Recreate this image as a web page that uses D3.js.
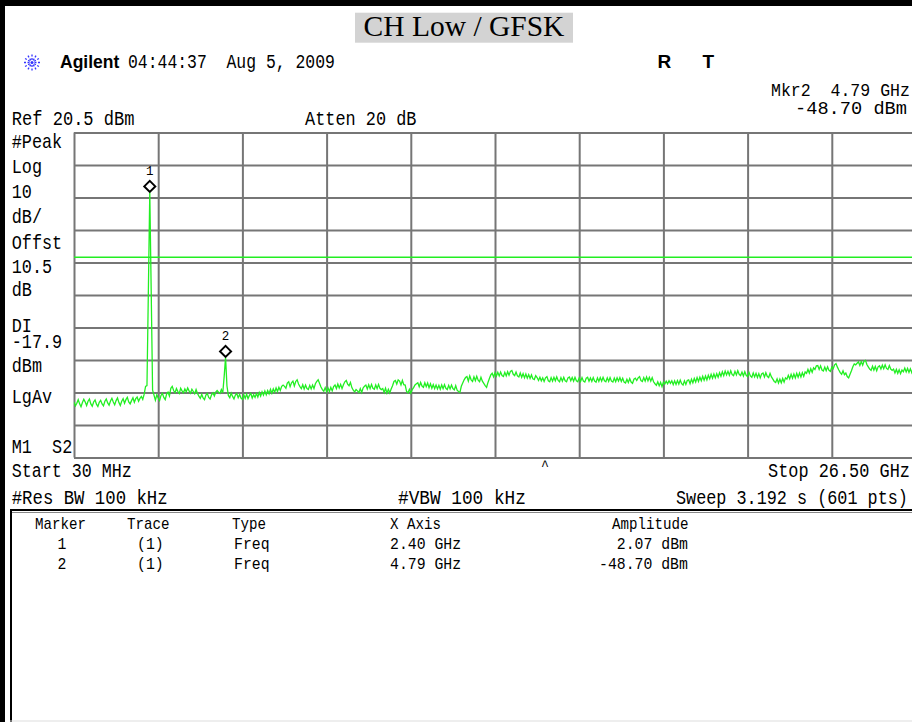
<!DOCTYPE html>
<html><head><meta charset="utf-8">
<script src="https://cdn.jsdelivr.net/npm/d3@7"></script>
<style>html,body{margin:0;padding:0;background:#fff;} svg{display:block;} text{white-space:pre;}</style>
</head><body>
<svg id="c" width="912" height="722"></svg>
<script>
// ---------------- data ----------------
const title = "CH Low / GFSK";
const startGHz = 0.03, stopGHz = 26.5;
const refLevel = 20.5, dbPerDiv = 10, divisions = 10;
const displayLine = -17.9;
const markerNames = ["1", "2"];
const markerIdx = [54, 108];
const markerAmps = [2.07, -48.70];
const headerTexts = ["04:44:37  Aug 5, 2009"];
const infoTexts = ["Ref 20.5 dBm", "Atten 20 dB", "Mkr2  4.79 GHz", "-48.70 dBm"];
const leftLabels = ["#Peak","Log","10","dB/","Offst","10.5","dB","DI","-17.9","dBm","LgAv","M1  S2"];
const footerTexts = ["Start 30 MHz", "Stop 26.50 GHz", "#Res BW 100 kHz", "#VBW 100 kHz", "Sweep 3.192 s (601 pts)"];
const tableHeader = ["Marker","Trace","Type","X Axis","Amplitude"];
const tableRows = [["1","(1)","Freq","2.40 GHz","2.07 dBm"],["2","(1)","Freq","4.79 GHz","-48.70 dBm"]];
const traceDbm = [
-62.4,-63.6,-62.8,-61.7,-63.0,-63.9,-62.6,-61.6,-62.4,-63.5,
-62.2,-61.5,-63.0,-63.7,-62.4,-61.8,-63.1,-63.8,-62.5,-61.9,
-63.0,-63.6,-62.2,-61.5,-62.7,-63.4,-62.1,-61.3,-62.4,-63.3,
-62.0,-61.2,-62.6,-63.5,-62.2,-61.4,-62.8,-61.7,-61.0,-62.4,
-63.0,-62.0,-61.1,-62.5,-61.4,-60.9,-62.2,-61.3,-60.7,-61.6,
-60.0,-57.6,-57.4,-28.0,2.07,-28.0,-58.8,-60.3,-61.9,-60.2,
-61.2,-62.0,-60.4,-59.8,-61.0,-61.7,-60.0,-59.4,-60.6,-58.2,
-57.6,-58.9,-59.6,-58.3,-59.2,-59.8,-58.2,-59.0,-59.6,-58.4,
-59.3,-58.1,-59.0,-59.7,-58.5,-59.2,-59.9,-58.6,-59.8,-60.6,
-61.3,-60.1,-61.2,-61.7,-60.3,-59.8,-61.0,-61.5,-60.2,-59.6,
-60.6,-59.4,-58.9,-59.4,-59.8,-58.6,-59.6,-54.6,-48.70,-57.5,
-60.4,-61.1,-59.7,-60.7,-61.5,-60.3,-59.8,-61.1,-60.1,-61.2,
-61.6,-60.2,-61.3,-60.0,-61.4,-60.4,-59.8,-61.2,-60.2,-61.0,
-59.8,-60.9,-59.5,-60.6,-59.3,-60.3,-59.0,-60.2,-58.9,-59.9,
-58.5,-59.7,-58.4,-59.4,-58.1,-59.2,-57.9,-58.9,-57.6,-57.2,
-57.6,-58.2,-56.6,-56.2,-57.7,-56.5,-56.0,-57.5,-56.1,-55.6,
-56.9,-57.7,-58.3,-57.1,-58.4,-57.2,-58.3,-58.6,-57.3,-58.4,
-57.2,-58.3,-56.8,-56.1,-55.6,-56.7,-57.8,-58.6,-59.1,-58.0,
-59.3,-58.1,-59.2,-57.9,-59.0,-57.7,-57.2,-58.3,-56.9,-58.1,
-57.0,-58.3,-57.1,-56.2,-55.8,-56.9,-57.4,-56.4,-58.0,-58.8,
-59.3,-58.6,-59.0,-59.5,-58.3,-59.5,-58.1,-57.6,-57.2,-58.4,
-57.1,-58.3,-57.0,-58.2,-58.5,-57.2,-58.3,-57.0,-58.2,-58.6,
-58.3,-59.5,-58.2,-59.7,-58.5,-59.6,-58.4,-57.4,-56.1,-55.8,
-56.9,-55.6,-56.0,-57.2,-55.8,-57.1,-57.2,-59.2,-59.6,-58.5,
-59.7,-58.6,-58.0,-57.2,-56.8,-56.5,-57.7,-56.4,-57.5,-57.9,
-56.5,-57.7,-56.6,-58.0,-56.8,-58.2,-57.1,-58.3,-57.2,-58.4,
-57.3,-58.5,-57.2,-58.3,-57.1,-58.2,-58.6,-57.3,-58.4,-57.2,
-58.3,-58.7,-57.4,-58.8,-59.2,-59.5,-57.6,-56.6,-55.6,-54.9,
-54.6,-56.0,-54.4,-55.6,-56.1,-54.7,-55.9,-54.5,-55.7,-56.2,
-54.8,-56.0,-56.7,-57.4,-57.9,-56.4,-55.2,-54.1,-53.6,-54.7,
-53.4,-54.5,-53.3,-54.4,-53.2,-54.3,-54.6,-53.3,-54.4,-53.1,
-54.2,-53.0,-52.7,-53.9,-54.3,-53.2,-54.4,-54.7,-53.5,-54.8,
-53.7,-55.0,-53.8,-55.1,-54.0,-55.2,-54.1,-55.3,-55.5,-54.3,
-54.9,-55.8,-54.8,-55.9,-55.0,-56.1,-55.0,-54.6,-55.9,-56.2,
-54.9,-56.0,-54.8,-55.9,-54.7,-55.8,-56.2,-54.9,-56.0,-54.8,
-55.9,-56.2,-55.0,-54.7,-55.9,-54.9,-56.0,-54.8,-55.9,-56.2,
-55.0,-56.1,-54.9,-56.0,-56.3,-55.1,-54.8,-56.0,-55.0,-56.1,
-54.9,-56.0,-56.3,-55.0,-56.1,-54.9,-56.0,-54.8,-55.9,-56.2,
-55.0,-56.1,-54.9,-56.0,-56.3,-55.1,-56.2,-55.0,-56.0,-54.9,
-56.1,-55.1,-56.3,-56.6,-55.4,-56.4,-55.2,-56.3,-56.7,-55.4,
-55.1,-55.8,-55.0,-54.6,-55.8,-56.1,-54.9,-56.0,-54.7,-55.9,
-54.8,-56.0,-54.9,-56.2,-56.8,-57.3,-56.2,-57.4,-56.4,-57.7,
-56.3,-56.9,-56.0,-56.8,-55.9,-56.7,-55.9,-57.1,-55.9,-57.0,
-55.8,-56.9,-55.7,-56.8,-57.2,-55.9,-57.0,-55.8,-55.6,-56.8,
-55.4,-56.5,-55.2,-56.3,-54.9,-56.1,-54.8,-55.9,-54.5,-55.7,
-54.4,-55.6,-54.2,-55.3,-53.9,-55.1,-53.8,-55.0,-53.7,-54.8,
-53.4,-54.5,-53.1,-54.3,-52.9,-54.1,-53.0,-54.2,-52.8,-54.0,
-54.3,-53.0,-54.1,-52.8,-53.9,-54.3,-53.2,-54.4,-53.1,-54.2,
-54.6,-53.3,-54.4,-54.8,-53.5,-54.7,-53.6,-54.9,-53.7,-55.0,
-53.8,-53.5,-54.7,-53.4,-54.5,-54.9,-53.6,-54.7,-55.4,-56.1,
-56.4,-55.3,-56.6,-55.4,-56.5,-55.2,-56.3,-55.0,-55.4,-54.2,
-55.3,-53.9,-55.1,-53.8,-55.0,-53.6,-54.8,-53.5,-54.7,-53.4,
-54.5,-53.2,-53.6,-52.4,-53.5,-52.2,-53.3,-51.9,-52.4,-51.3,
-51.2,-52.4,-51.3,-52.6,-52.9,-51.7,-52.8,-51.6,-52.7,-53.0,
-51.7,-52.2,-51.0,-50.6,-51.7,-52.6,-53.4,-53.9,-52.8,-54.0,
-53.5,-54.6,-55.0,-53.9,-52.8,-51.6,-50.7,-51.0,-50.5,-50.1,
-51.2,-50.0,-51.1,-49.8,-49.6,-50.9,-51.6,-52.3,-52.7,-51.4,
-52.6,-51.5,-52.8,-51.6,-51.3,-52.3,-51.1,-52.2,-51.0,-52.1,
-52.4,-51.2,-52.3,-52.7,-52.3,-53.5,-52.4,-53.6,-52.5,-53.7,
-52.6,-53.1,-52.0,-53.2,-52.1,-53.3,-52.2,-53.4,-52.3,-52.9,
-52.4
];

// ---------------- layout ----------------
const W = 912, H = 722;
const plot = {left: 74, right: 916, top: 132.5, bottom: 457.5};
const GREEN = "#22ee22", GRID = "#767676";
const MONO = "'Liberation Mono', 'DejaVu Sans Mono', monospace";

const svg = d3.select("#c");
svg.append("rect").attr("width", W).attr("height", H).attr("fill", "#fff");

const x = d3.scaleLinear().domain([startGHz, stopGHz]).range([plot.left, plot.right]);
const y = d3.scaleLinear().domain([refLevel - dbPerDiv * divisions, refLevel]).range([plot.bottom, plot.top]);
const nPts = traceDbm.length;
const freqAt = i => startGHz + i * (stopGHz - startGHz) / (nPts - 1);

// monospace text: font size chosen so the natural width equals len, then stretched vertically
function mono(g, str, px, py, size, len, anchor) {
  const adv = len / str.length;
  const fs = adv / 0.6;
  const sy = size / fs;
  let xx = px;
  if (anchor === "end") xx = px - len;
  else if (anchor === "middle") xx = px - len / 2;
  return g.append("text").text(str)
    .attr("transform", `translate(${xx},${py}) scale(1,${sy.toFixed(3)})`)
    .attr("x", 0).attr("y", 0)
    .attr("font-family", MONO).attr("font-size", fs.toFixed(2)).attr("fill", "#000");
}

// frame
svg.append("rect").attr("x", 0).attr("y", 0).attr("width", W).attr("height", 6).attr("fill", "#000");
svg.append("rect").attr("x", 0).attr("y", 0).attr("width", 5).attr("height", H).attr("fill", "#000");

// title
const tg = svg.append("g");
tg.append("rect").attr("x", 355).attr("y", 12.7).attr("width", 218).attr("height", 30).attr("fill", "#d3d3d3");
tg.append("text").text(title).attr("x", 464).attr("y", 36).attr("text-anchor", "middle")
  .attr("font-family", "'Liberation Serif', 'Times New Roman', serif").attr("font-size", 29.5).attr("fill", "#000");

// logo
const logo = svg.append("g").attr("transform", "translate(32,62.5)");
d3.range(12).forEach(k => {
  const a = k * Math.PI / 6;
  logo.append("line").attr("x1", 2.5 * Math.cos(a)).attr("y1", 2.5 * Math.sin(a))
    .attr("x2", 9.5 * Math.cos(a)).attr("y2", 9.5 * Math.sin(a))
    .attr("stroke", "#3333ff").attr("stroke-width", 1.3).attr("stroke-dasharray", "2,1.5");
});
logo.append("circle").attr("r", 1.5).attr("fill", "#3333ff");

svg.append("text").text("Agilent").attr("x", 60).attr("y", 67.5)
  .attr("font-family", "'Liberation Sans', Arial, sans-serif").attr("font-weight", "bold").attr("font-size", 17.5);
mono(svg, headerTexts[0], 128, 68, 20, 207);
svg.append("text").text("R").attr("x", 657.5).attr("y", 68).attr("font-family", "'Liberation Sans', Arial, sans-serif").attr("font-weight", "bold").attr("font-size", 19);
svg.append("text").text("T").attr("x", 702.5).attr("y", 68).attr("font-family", "'Liberation Sans', Arial, sans-serif").attr("font-weight", "bold").attr("font-size", 19);

mono(svg, infoTexts[0], 11.7, 125, 20, 123);
mono(svg, infoTexts[1], 305, 125, 20, 111.5);
mono(svg, infoTexts[2], 910, 96, 19, 139, "end");
mono(svg, infoTexts[3], 907, 114, 19, 112, "end");

// left labels
const leftBaselines = [148, 173, 198, 223, 249, 272.5, 295.5, 331.5, 348, 371.5, 403, 453];
leftLabels.forEach((s, i) => mono(svg, s, 11.7, leftBaselines[i], 19.5, s.length * 10.1));

// grid through axes
const gx = svg.append("g").attr("transform", `translate(0,${plot.bottom})`)
  .call(d3.axisBottom(x)
    .tickValues(d3.range(divisions + 1).map(k => startGHz + k * (stopGHz - startGHz) / divisions))
    .tickSize(-(plot.bottom - plot.top)).tickFormat(""));
const gy = svg.append("g").attr("transform", `translate(${plot.left},0)`)
  .call(d3.axisLeft(y)
    .tickValues(d3.range(divisions + 1).map(k => refLevel - k * dbPerDiv))
    .tickSize(-(plot.right - plot.left)).tickFormat(""));
[gx, gy].forEach(g => {
  g.select(".domain").remove();
  g.selectAll(".tick line").attr("stroke", GRID).attr("stroke-width", 2);
});

// display line
svg.append("line").attr("x1", plot.left).attr("x2", plot.right)
  .attr("y1", y(displayLine)).attr("y2", y(displayLine))
  .attr("stroke", GREEN).attr("stroke-width", 1.6);

// trace
svg.append("clipPath").attr("id", "pc").append("rect")
  .attr("x", plot.left).attr("y", plot.top).attr("width", plot.right - plot.left).attr("height", plot.bottom - plot.top);
const line = d3.line().x((d, i) => x(freqAt(i))).y(d => y(d));
svg.append("path").datum(traceDbm).attr("d", line).attr("clip-path", "url(#pc)")
  .attr("fill", "none").attr("stroke", GREEN).attr("stroke-width", 1.3).attr("stroke-linejoin", "miter");

// markers
markerIdx.forEach((idx, k) => {
  const mx = x(freqAt(idx)), my = y(markerAmps[k]) - 6;
  svg.append("path").attr("d", `M${mx},${my - 5.5}L${mx + 5.5},${my}L${mx},${my + 5.5}L${mx - 5.5},${my}Z`)
    .attr("fill", "#fff").attr("stroke", "#000").attr("stroke-width", 2);
  svg.append("text").text(markerNames[k]).attr("x", mx).attr("y", my - 11).attr("text-anchor", "middle")
    .attr("font-family", MONO).attr("font-size", 12.5);
});

// footer
mono(svg, footerTexts[0], 11.7, 477, 20, 120);
mono(svg, "^", 545, 470, 14, 8, "middle");
mono(svg, footerTexts[1], 910, 477, 20, 142, "end");
mono(svg, footerTexts[2], 11.7, 504, 20, 156);
mono(svg, footerTexts[3], 398, 504, 20, 128);
mono(svg, footerTexts[4], 908, 504, 20, 232, "end");

// table box
svg.append("line").attr("x1", 10).attr("x2", W).attr("y1", 510).attr("y2", 510).attr("stroke", "#000").attr("stroke-width", 2);
svg.append("line").attr("x1", 10).attr("x2", W).attr("y1", 512.5).attr("y2", 512.5).attr("stroke", "#888").attr("stroke-width", 1);
svg.append("line").attr("x1", 11).attr("x2", 11).attr("y1", 510).attr("y2", H).attr("stroke", "#000").attr("stroke-width", 2);
svg.append("line").attr("x1", 10).attr("x2", W).attr("y1", 721).attr("y2", 721).attr("stroke", "#ddd").attr("stroke-width", 1);

const colX = [35, 127, 232, 390, 612];
tableHeader.forEach((s, i) => mono(svg, s, colX[i], 529, 16, s.length * 8.5));
const rowCols = [{x: 62, a: "middle"}, {x: 137, a: "start"}, {x: 234, a: "start"}, {x: 390, a: "start"}, {x: 688, a: "end"}];
tableRows.forEach((row, r) => {
  const by = 549 + r * 19.5;
  row.forEach((s, i) => mono(svg, s, rowCols[i].x, by, 16, s.length * 8.9, rowCols[i].a));
});
</script>
</body></html>
